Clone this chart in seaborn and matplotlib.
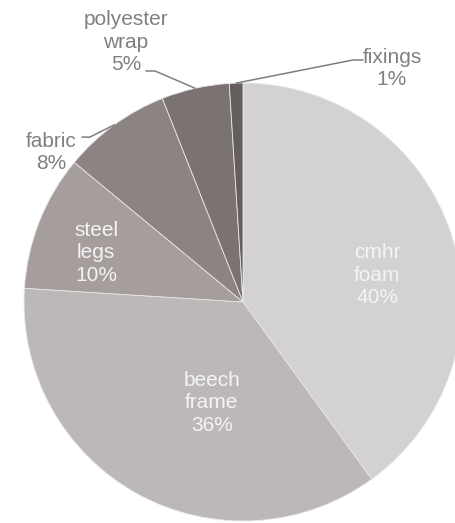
import numpy as np
import matplotlib
matplotlib.use("Agg")
import matplotlib.pyplot as plt
import seaborn as sns

# material share of the sofa
materials = ["cmhr\nfoam", "beech\nframe", "steel\nlegs", "fabric", "polyester\nwrap", "fixings"]
shares = [40, 36, 10, 8, 5, 1]
colours = ["#d3d2d1", "#bcb8b7", "#a59e9d", "#8c8482", "#7b7372", "#655e5e"]

sns.set_theme(style="white")
plt.rcParams["font.family"] = ["Liberation Sans", "DejaVu Sans"]

fig = plt.figure(figsize=(4.55, 5.23), dpi=100)
ax = fig.add_axes([0, 0, 1, 1])

wedges, _ = ax.pie(shares, colors=colours, startangle=90, counterclock=False,
                   radius=1, wedgeprops=dict(edgecolor="#e8e8e8", linewidth=0.6))

# pie centre sits at (243, 302) px with radius 219 px
ax.set_xlim(-243 / 219, (455 - 243) / 219)
ax.set_ylim(-(523 - 302) / 219, 302 / 219)
ax.set_aspect("auto")
ax.axis("off")

pcts = [f"{s}%" for s in shares]

# labels inside the slices (radius units)
inside = {0: (0.612, 0.123), 1: (-0.142, -0.461), 2: (-0.671, 0.224)}
for i, (x, y) in inside.items():
    ax.text(x, y, materials[i] + "\n" + pcts[i], ha="center", va="center",
            fontsize=15, color="#f4f4f4", linespacing=1.22)

# labels outside with leader lines: text pos, elbow, line end near text
outside = {
    3: ((-0.877, 0.683), (-0.699, 0.753), (-0.735, 0.753)),
    4: ((-0.534, 1.187), (-0.402, 1.055), (-0.443, 1.055)),
    5: ((0.68, 1.065), (0.502, 1.105), (0.548, 1.105)),
}

for i, (tpos, elbow, end) in outside.items():
    w = wedges[i]
    mid = np.deg2rad((w.theta1 + w.theta2) / 2)
    edge = (np.cos(mid), np.sin(mid))
    ax.plot([edge[0], elbow[0], end[0]], [edge[1], elbow[1], end[1]],
            color="#7f7f7f", linewidth=1.1)
    ax.text(tpos[0], tpos[1], materials[i] + "\n" + pcts[i], ha="center", va="center",
            fontsize=15, color="#808080", linespacing=1.22)

fig.savefig("out.png", dpi=100)
